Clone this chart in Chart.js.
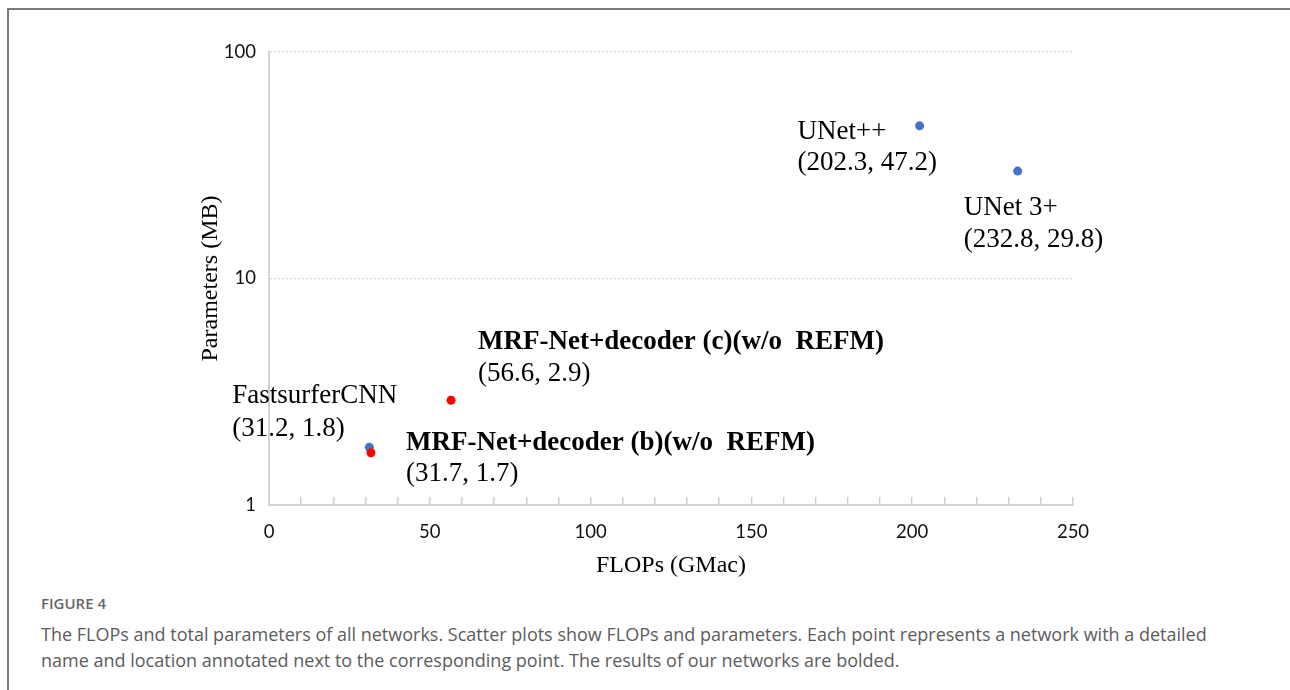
<!DOCTYPE html>
<html>
<head>
<meta charset="utf-8">
<script src="https://cdn.jsdelivr.net/npm/chart.js@4.4.1/dist/chart.umd.min.js"></script>
<style>
  html, body { margin: 0; padding: 0; background: #fff; width: 1290px; height: 690px; overflow: hidden; }
  #frame { position: absolute; left: 7px; top: 8px; width: 1400px; height: 800px;
           border-left: 2px solid #7a7a7a; border-top: 2px solid #7a7a7a; }
  #wrap { position: absolute; left: 0; top: 0; width: 1290px; height: 590px; }
  #caption { position: absolute; left: 41px; top: 592px; white-space: nowrap; font-family: "Open Sans", sans-serif; }
  #caption .fig { font-size: 15px; font-weight: 600; color: #666; line-height: 22px; }
  #caption .txt { font-size: 18px; color: #5c5c5c; line-height: 26px; margin-top: 7px; }
</style>
</head>
<body>
<div id="frame"></div>
<div id="wrap"><canvas id="chart" width="1290" height="590"></canvas></div>
<div id="caption">
  <div class="fig">FIGURE 4</div>
  <div class="txt">The FLOPs and total parameters of all networks. Scatter plots show FLOPs and parameters. Each point represents a network with a detailed<br>name and location annotated next to the corresponding point. The results of our networks are bolded.</div>
</div>
<script>
// Networks compared: computational cost (GMac) and parameter count (MB)
const models = ['FastsurferCNN', 'UNet++', 'UNet 3+', 'MRF-Net+decoder (b)(w/o  REFM)', 'MRF-Net+decoder (c)(w/o  REFM)'];
const flops  = [31.2, 202.3, 232.8, 31.7, 56.6];
const params = [1.8, 47.2, 29.8, 1.7, 2.9];
const ours   = [false, false, false, true, true];

// Axis ticks
const yTickValues = [1, 10, 100];
const xLabelStep = 50;

// Annotation placement relative to each point (px): left edge, name baseline, value baseline
const labelOffsets = [
  { dx: -137, dy1: -44, dy2: -11 },
  { dx: -122, dy1: 13, dy2: 44 },
  { dx: -54, dy1: 44, dy2: 76 },
  { dx: 35, dy1: -3, dy2: 28 },
  { dx: 27, dy1: -51, dy2: -19 }
];

const BLUE = '#4472C4';
const RED = '#FF0000';

function pointsWhere(pred) {
  const pts = [];
  models.forEach((m, i) => { if (pred(i)) pts.push({ x: flops[i], y: params[i] }); });
  return pts;
}

const annotate = {
  id: 'pointAnnotations',
  afterDatasetsDraw(chart) {
    const ctx = chart.ctx;
    const xs = chart.scales.x, ys = chart.scales.y;
    models.forEach((name, i) => {
      const px = xs.getPixelForValue(flops[i]);
      const py = ys.getPixelForValue(params[i]);
      const o = labelOffsets[i];
      ctx.save();
      ctx.fillStyle = '#000';
      ctx.textAlign = 'left';
      ctx.textBaseline = 'alphabetic';
      ctx.font = (ours[i] ? 'bold ' : '') + '27px "Liberation Serif"';
      ctx.fillText(name, px + o.dx, py + o.dy1);
      ctx.font = '27px "Liberation Serif"';
      ctx.fillText('(' + flops[i].toFixed(1) + ', ' + params[i].toFixed(1) + ')', px + o.dx, py + o.dy2);
      ctx.restore();
    });
  }
};

function build() {
  new Chart(document.getElementById('chart'), {
    type: 'scatter',
    data: {
      datasets: [
        { label: 'Ours', data: pointsWhere(i => ours[i]), backgroundColor: RED, borderWidth: 0, pointRadius: 4.5 },
        { label: 'Others', data: pointsWhere(i => !ours[i]), backgroundColor: BLUE, borderWidth: 0, pointRadius: 4.5 }
      ]
    },
    options: {
      responsive: false,
      animation: false,
      events: [],
      layout: { padding: { left: 196, right: 217, top: 52, bottom: 0 } },
      plugins: { legend: { display: false }, tooltip: { enabled: false } },
      scales: {
        x: {
          type: 'linear', min: 0, max: 250,
          ticks: {
            stepSize: 10, autoSkip: false, maxRotation: 0, padding: 24,
            color: '#111', font: { family: 'Lato', size: 18.5 },
            callback: v => (v % xLabelStep === 0 ? String(v) : '')
          },
          grid: { drawOnChartArea: false, drawTicks: true, tickLength: -8, color: '#cfcfcf', lineWidth: 1.5 },
          border: { display: true, color: '#d3d3d3', width: 2 },
          title: { display: true, text: 'FLOPs (GMac)', color: '#000',
                   font: { family: 'Liberation Serif', size: 24 }, padding: { top: 0, bottom: 10 } },
          afterFit: s => { s.height = 85; }
        },
        y: {
          type: 'logarithmic', min: 1, max: 100,
          afterBuildTicks: s => { s.ticks = yTickValues.map(v => ({ value: v, major: true })); },
          ticks: { padding: 13, color: '#111', font: { family: 'Lato', size: 18.5 }, callback: v => String(v) },
          grid: { drawTicks: false, lineWidth: 1.2,
                  color: c => (c.tick && c.tick.value === yTickValues[0] ? 'rgba(0,0,0,0)' : '#d4d4d4') },
          border: { display: true, color: '#d3d3d3', width: 2, dash: [2, 2] },
          title: { display: true, text: 'Parameters (MB)', color: '#000',
                   font: { family: 'Liberation Serif', size: 24 }, padding: { top: 0, bottom: 0 } },
          afterFit: s => { s.width = 73; }
        }
      }
    },
    plugins: [annotate]
  });
}

Promise.all([
  document.fonts.load('27px "Liberation Serif"'),
  document.fonts.load('bold 27px "Liberation Serif"'),
  document.fonts.load('18px Lato'),
  document.fonts.load('18px "Open Sans"')
]).then(build, build);
</script>
</body>
</html>
